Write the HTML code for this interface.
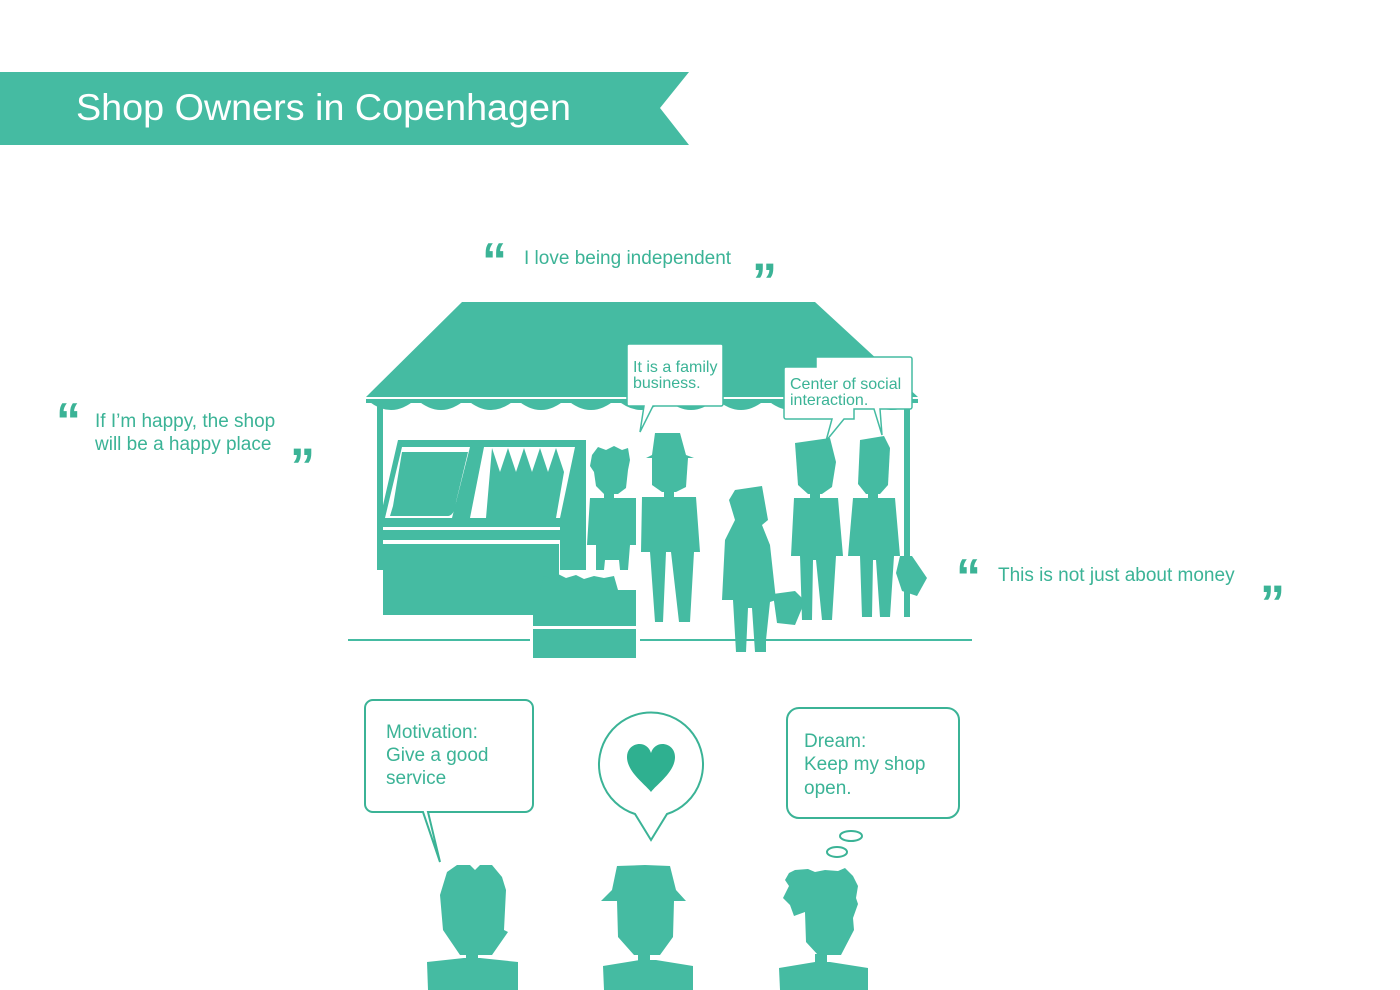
<!DOCTYPE html>
<html><head><meta charset="utf-8"><style>
html,body{margin:0;padding:0;background:#fff;}
svg{display:block;}
text{font-family:"Liberation Sans",sans-serif;}
</style></head><body>
<svg width="1400" height="990" viewBox="0 0 1400 990" xmlns="http://www.w3.org/2000/svg">
<defs><style>.t{fill:#3bb396;font-size:19px}.q{fill:#3bb396;font-size:50px;font-weight:bold;font-family:"Liberation Sans",sans-serif}.b{fill:#3bb396;font-size:16px}</style></defs>
<!-- banner -->
<polygon points="0,72 689,72 660,108 689,145 0,145" fill="#45bba2"/>
<text x="76" y="120" fill="#fff" font-size="37" textLength="495" lengthAdjust="spacingAndGlyphs">Shop Owners in Copenhagen</text>

<!-- quotes -->
<text class="q" x="482" y="278">“</text><text class="t" x="524" y="264">I love being independent</text><text class="q" x="752" y="298">”</text>
<text class="q" x="56" y="438">“</text><text class="t" x="95" y="427">If I’m happy, the shop</text><text class="t" x="95" y="450">will be a happy place</text><text class="q" x="290" y="483">”</text>
<text class="q" x="956" y="594">“</text><text class="t" x="998" y="581">This is not just about money</text><text class="q" x="1260" y="620">”</text>

<g fill="#45bba2">
<!-- awning -->
<polygon points="462,302 815,302 918,397 366,397"/>
<path d="M366,399 h552 v4 h-552z"/>
<!-- posts -->
<rect x="377" y="400" width="6" height="170"/>
<rect x="904" y="400" width="6" height="217"/>
<!-- display case -->
<polygon points="398,440 583,440 563,527 378,527"/>
<rect x="378" y="530" width="182" height="10"/>
<rect x="383" y="544" width="176" height="71"/>
<rect x="560" y="440" width="26" height="130"/>
<!-- crate -->
<rect x="533" y="590" width="103" height="36"/>
<rect x="533" y="629" width="103" height="29"/>
<path d="M540,590 l4,-14 8,3 6,-5 8,4 10,-3 8,4 10,-3 10,2 10,-2 4,14z"/>
</g>
<!-- display inner details -->
<g fill="#fff">
<polygon points="402,447 470,447 452,518 385,518"/>
<polygon points="484,447 575,447 560,518 470,518"/>
</g>
<g fill="#45bba2">
<path d="M402,452 h66 l-12,50 c0,8 -4,14 -8,14 h-58 l3,-10z"/>
<path d="M492,448 l8,24 8,-24 8,24 8,-24 8,24 8,-24 8,24 8,-24 8,24 -8,46 h-70 z"/>
</g>
<!-- scallops -->
<g fill="#45bba2">
<path d="M366,399 q25,22 50,0 q25,22 50,0 q25,22 50,0 q25,22 50,0 q25,22 50,0 q25,22 50,0 q25,22 50,0 q25,22 50,0 q25,22 50,0 q25,22 50,0 q26,22 52,0z"/>
</g>
<line x1="348" y1="640" x2="530" y2="640" stroke="#45bba2" stroke-width="2"/>
<line x1="640" y1="640" x2="972" y2="640" stroke="#45bba2" stroke-width="2"/>

<!-- people -->
<g fill="#45bba2">
<path d="M592,455 l6,-8 8,3 8,-4 8,4 6,-2 2,12 -2,10 -2,18 -8,6 h-14 l-8,-8 -2,-14 -4,-6z"/>
<rect x="604" y="490" width="10" height="8"/>
<polygon points="590,498 636,498 636,545 630,545 628,570 620,570 619,560 605,560 604,570 596,570 596,545 587,545"/>
<polygon points="655,433 680,433 686,455 694,458 646,458 652,455"/>
<polygon points="652,458 688,458 686,487 676,492 662,492 652,485"/>
<rect x="664" y="490" width="10" height="8"/>
<polygon points="642,497 696,497 700,552 694,552 690,622 679,622 671,552 666,552 663,622 655,622 650,552 641,552"/>
<polygon points="735,490 762,486 768,520 762,525 770,545 776,600 770,602 766,640 766,652 755,652 752,608 748,608 746,652 736,652 733,600 722,600 725,540 735,520 729,500"/>
<path d="M773,594 l22,-3 10,10 -10,24 -18,-2z"/>
<polygon points="795,443 830,438 836,462 832,487 822,494 808,494 798,485"/>
<rect x="810" y="492" width="10" height="8"/>
<polygon points="794,498 838,498 843,556 836,556 832,620 822,620 816,560 813,560 812,620 802,620 800,556 791,556"/>
<polygon points="860,440 884,436 890,448 888,485 880,494 866,494 858,484"/>
<rect x="868" y="492" width="10" height="8"/>
<polygon points="853,498 895,498 900,556 894,556 890,617 880,617 876,560 873,560 872,617 862,617 860,556 848,556"/>
<path d="M900,556 l12,0 15,22 -10,18 -15,-5 -6,-18z"/>
</g>

<!-- top bubbles -->
<g fill="#fff" stroke="#45bba2" stroke-width="1.5">
<path d="M629,344 h92 a2,2 0 0 1 2,2 v58 a2,2 0 0 1 -2,2 h-68 l-13,26 4,-26 h-15 a2,2 0 0 1 -2,-2 v-58 a2,2 0 0 1 2,-2z"/>
<path d="M786,367 h30 v-10 h94 a2,2 0 0 1 2,2 v48 a2,2 0 0 1 -2,2 h-30 l2,26 -8,-26 h-20 v10 h-10 l-18,22 6,-22 h-46 a2,2 0 0 1 -2,-2 v-48 a2,2 0 0 1 2,-2z"/>
</g>
<text class="b" x="633" y="372">It is a family</text>
<text class="b" x="633" y="388">business.</text>
<text class="b" x="790" y="389">Center of social</text>
<text class="b" x="790" y="405">interaction.</text>

<!-- bottom bubbles -->
<g fill="#fff" stroke="#3bb396" stroke-width="2">
<path d="M373,700 h152 a8,8 0 0 1 8,8 v96 a8,8 0 0 1 -8,8 h-97 l12,50 -17,-50 h-50 a8,8 0 0 1 -8,-8 v-96 a8,8 0 0 1 8,-8z"/>
<path d="M635,814 A52,52 0 1 1 667,814 L651,840z"/>
<rect x="787" y="708" width="172" height="110" rx="12"/>
<ellipse cx="851" cy="836" rx="11" ry="5"/>
<ellipse cx="837" cy="852" rx="10" ry="5"/>
</g>
<path d="M651,792 c-6,-8 -24,-20 -24,-35 c0,-15 20,-18 24,-4 c4,-14 24,-11 24,4 c0,15 -18,27 -24,35z" fill="#2fb090"/>
<text class="t" x="386" y="738" font-size="18">Motivation:</text>
<text class="t" x="386" y="761" font-size="18">Give a good</text>
<text class="t" x="386" y="784" font-size="18">service</text>
<text class="t" x="804" y="747" font-size="18">Dream:</text>
<text class="t" x="804" y="770" font-size="18">Keep my shop</text>
<text class="t" x="804" y="794" font-size="18">open.</text>

<!-- bottom heads -->
<g fill="#45bba2">
<polygon points="447,872 457,865 470,865 475,870 480,865 492,865 502,877 506,890 504,930 508,932 492,955 460,955 443,930 440,895"/>
<rect x="466" y="954" width="12" height="10"/>
<polygon points="427,962 464,958 480,958 518,962 518,990 428,990"/>
<polygon points="617,866 645,865 670,866 676,890 686,901 674,901 673,937 660,955 634,955 618,937 617,901 601,901 612,890"/>
<rect x="638" y="954" width="12" height="10"/>
<polygon points="603,966 640,960 656,960 693,966 693,990 604,990"/>
<polygon points="789,873 795,870 808,869 815,872 825,870 838,871 845,868 853,876 858,886 856,898 858,904 853,918 854,930 841,955 818,955 806,942 805,912 794,916 790,905 783,898 789,886 785,880"/>
<rect x="815" y="954" width="12" height="10"/>
<polygon points="779,968 815,962 830,962 868,968 868,990 780,990"/>
</g>
</svg>
</body></html>
